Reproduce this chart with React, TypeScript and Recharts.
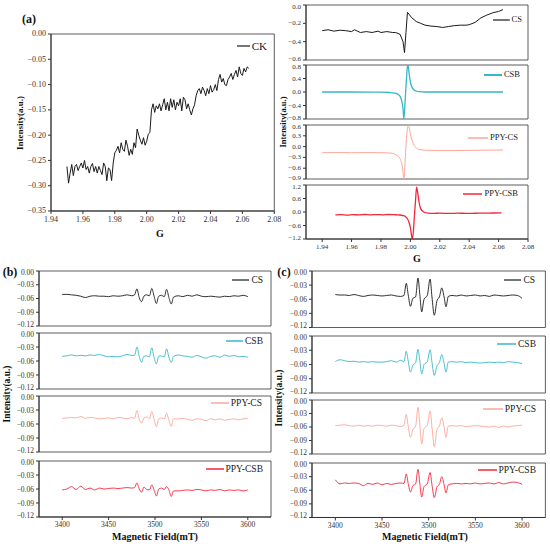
import { LineChart, Line, XAxis, YAxis, ReferenceArea } from 'recharts';

// ---- (a) g-factor spectra ----
const ckG = [
  1.950, 1.951, 1.952, 1.953, 1.954, 1.955, 1.956, 1.957, 1.958, 1.959,
  1.960, 1.961, 1.962, 1.963, 1.964, 1.965, 1.966, 1.967, 1.968, 1.969,
  1.970, 1.971, 1.972, 1.973, 1.974, 1.975, 1.976, 1.977, 1.978, 1.979,
  1.980, 1.981, 1.982, 1.983, 1.984, 1.985, 1.986, 1.987, 1.988, 1.989,
  1.990, 1.991, 1.992, 1.993, 1.994, 1.995, 1.996, 1.997, 1.998, 1.999,
  2.000, 2.001, 2.002, 2.003, 2.004, 2.005, 2.006, 2.007, 2.008, 2.009,
  2.010, 2.011, 2.012, 2.013, 2.014, 2.015, 2.016, 2.017, 2.018, 2.019,
  2.020, 2.021, 2.022, 2.023, 2.024, 2.025, 2.026, 2.027, 2.028, 2.029,
  2.030, 2.031, 2.032, 2.033, 2.034, 2.035, 2.036, 2.037, 2.038, 2.039,
  2.040, 2.041, 2.042, 2.043, 2.044, 2.045, 2.046, 2.047, 2.048, 2.049,
  2.050, 2.051, 2.052, 2.053, 2.054, 2.055, 2.056, 2.057, 2.058, 2.059,
  2.060, 2.061, 2.062, 2.063, 2.064];
const ckI = [
  -0.262, -0.295, -0.275, -0.258, -0.280, -0.262, -0.258, -0.270, -0.262, -0.255,
  -0.265, -0.250, -0.268, -0.262, -0.275, -0.262, -0.256, -0.272, -0.262, -0.275,
  -0.262, -0.270, -0.278, -0.255, -0.262, -0.290, -0.265, -0.268, -0.290, -0.255,
  -0.235, -0.230, -0.222, -0.235, -0.215, -0.228, -0.232, -0.210, -0.222, -0.240,
  -0.228, -0.238, -0.215, -0.225, -0.188, -0.200, -0.210, -0.218, -0.205, -0.220,
  -0.212, -0.198, -0.195, -0.150, -0.138, -0.155, -0.142, -0.148, -0.138, -0.152,
  -0.140, -0.128, -0.150, -0.135, -0.152, -0.128, -0.145, -0.130, -0.150, -0.135,
  -0.142, -0.128, -0.152, -0.125, -0.130, -0.148, -0.138, -0.150, -0.160, -0.148,
  -0.140, -0.122, -0.112, -0.108, -0.118, -0.105, -0.112, -0.122, -0.108, -0.118,
  -0.102, -0.115, -0.110, -0.100, -0.112, -0.090, -0.080, -0.095, -0.088, -0.100,
  -0.102, -0.090, -0.085, -0.078, -0.090, -0.080, -0.072, -0.085, -0.065, -0.078,
  -0.082, -0.068, -0.075, -0.065, -0.068];

const csG = [1.940, 1.944, 1.948, 1.952, 1.956, 1.960, 1.962, 1.966, 1.970, 1.974, 1.978, 1.980, 1.984, 1.988, 1.990, 1.993, 1.995, 1.996, 1.997, 1.998, 1.999, 2.001, 2.004, 2.007, 2.010, 2.014, 2.018, 2.022, 2.026, 2.030, 2.034, 2.038, 2.040, 2.044, 2.048, 2.052, 2.056, 2.060, 2.063];
const csI = [-0.28, -0.27, -0.285, -0.275, -0.28, -0.29, -0.27, -0.30, -0.29, -0.30, -0.285, -0.30, -0.29, -0.30, -0.30, -0.32, -0.40, -0.52, -0.30, -0.08, -0.10, -0.14, -0.18, -0.20, -0.22, -0.23, -0.235, -0.245, -0.235, -0.225, -0.22, -0.22, -0.215, -0.19, -0.14, -0.11, -0.085, -0.07, -0.05];

const csbG = [1.940, 1.960, 1.980, 1.986, 1.990, 1.992, 1.993, 1.994, 1.995, 1.9955, 1.996, 1.9965, 1.997, 1.9975, 1.998, 1.9985, 1.999, 2.000, 2.001, 2.002, 2.004, 2.006, 2.010, 2.020, 2.040, 2.063];
const csbI = [0, 0, -0.005, -0.015, -0.04, -0.08, -0.13, -0.25, -0.5, -0.8, -0.6, -0.2, 0.15, 0.5, 0.75, 0.8, 0.6, 0.3, 0.15, 0.08, 0.03, 0.01, 0, 0, 0, 0];

const ppycsG = [1.940, 1.950, 1.960, 1.970, 1.980, 1.985, 1.988, 1.990, 1.992, 1.993, 1.994, 1.995, 1.9955, 1.996, 1.9965, 1.997, 1.9975, 1.998, 1.9985, 1.999, 2.000, 2.001, 2.002, 2.004, 2.006, 2.010, 2.020, 2.030, 2.040, 2.050, 2.063];
const ppycsI = [-0.17, -0.165, -0.17, -0.165, -0.17, -0.175, -0.19, -0.22, -0.28, -0.34, -0.45, -0.7, -0.9, -0.75, -0.35, 0.0, 0.3, 0.5, 0.6, 0.55, 0.35, 0.2, 0.08, -0.04, -0.08, -0.1, -0.11, -0.11, -0.105, -0.1, -0.095];

const ppycsbG = [1.949, 1.953, 1.957, 1.961, 1.965, 1.969, 1.973, 1.977, 1.981, 1.985, 1.989, 1.992, 1.995, 1.997, 1.998, 1.999, 2.000, 2.0007, 2.0013, 2.002, 2.0027, 2.0035, 2.0042, 2.005, 2.006, 2.007, 2.009, 2.012, 2.016, 2.020, 2.026, 2.032, 2.038, 2.044, 2.050, 2.056, 2.062];
const ppycsbI = [-0.13, -0.12, -0.135, -0.12, -0.125, -0.11, -0.125, -0.115, -0.125, -0.11, -0.12, -0.13, -0.16, -0.22, -0.3, -0.45, -0.7, -1.0, -1.2, -0.9, -0.2, 0.5, 1.1, 0.85, 0.4, 0.15, 0.0, -0.05, -0.06, -0.05, -0.065, -0.05, -0.06, -0.055, -0.05, -0.045, -0.04];

// ---- (b) magnetic field spectra ----
const bField = [3400, 3405, 3410, 3415, 3420, 3425, 3430, 3435, 3440, 3445, 3450, 3455, 3460, 3465, 3470, 3475, 3478, 3480.5, 3483, 3485.5, 3488, 3491, 3494, 3496.5, 3499, 3501.5, 3504, 3507, 3510, 3512.5, 3515, 3517.5, 3520, 3525, 3530, 3535, 3540, 3545, 3550, 3555, 3560, 3565, 3570, 3575, 3580, 3585, 3590, 3595, 3600];
const bCS = [-0.051, -0.051, -0.052, -0.053, -0.055, -0.058, -0.055, -0.054, -0.055, -0.055, -0.056, -0.054, -0.055, -0.054, -0.052, -0.054,
  -0.052, -0.039, -0.058, -0.067, -0.055, -0.052, -0.054, -0.038, -0.055, -0.071, -0.055, -0.053, -0.056, -0.040, -0.058, -0.072, -0.057,
  -0.054, -0.056, -0.053, -0.055, -0.052, -0.055, -0.056, -0.055, -0.056, -0.057, -0.055, -0.056, -0.054, -0.055, -0.053, -0.056];
const bCSB = [-0.050, -0.049, -0.047, -0.049, -0.048, -0.049, -0.047, -0.048, -0.046, -0.049, -0.051, -0.050, -0.051, -0.049, -0.046, -0.048,
  -0.048, -0.030, -0.050, -0.063, -0.050, -0.049, -0.051, -0.032, -0.052, -0.066, -0.050, -0.049, -0.051, -0.034, -0.052, -0.063, -0.050,
  -0.047, -0.049, -0.050, -0.052, -0.048, -0.051, -0.054, -0.050, -0.049, -0.052, -0.047, -0.050, -0.048, -0.051, -0.050, -0.052];
const bPPYCS = [-0.048, -0.047, -0.046, -0.047, -0.044, -0.048, -0.046, -0.047, -0.049, -0.048, -0.047, -0.049, -0.046, -0.047, -0.049, -0.046,
  -0.048, -0.031, -0.050, -0.058, -0.047, -0.045, -0.049, -0.033, -0.050, -0.066, -0.049, -0.047, -0.049, -0.037, -0.052, -0.065, -0.049,
  -0.049, -0.048, -0.050, -0.052, -0.049, -0.050, -0.053, -0.049, -0.051, -0.049, -0.052, -0.050, -0.049, -0.051, -0.049, -0.048];
const bPPYCSB = [-0.062, -0.060, -0.055, -0.061, -0.054, -0.061, -0.058, -0.062, -0.058, -0.060, -0.059, -0.058, -0.059, -0.058, -0.057, -0.058,
  -0.057, -0.047, -0.060, -0.067, -0.056, -0.061, -0.062, -0.051, -0.062, -0.075, -0.060, -0.058, -0.061, -0.055, -0.062, -0.076, -0.064,
  -0.064, -0.063, -0.062, -0.063, -0.061, -0.062, -0.064, -0.062, -0.063, -0.061, -0.064, -0.062, -0.063, -0.062, -0.064, -0.062];

// ---- (c) magnetic field spectra ----
const cField = [3400, 3405, 3410, 3415, 3420, 3425, 3430, 3435, 3440, 3445, 3450, 3455, 3460, 3465, 3470, 3473.5, 3476, 3478, 3480.5, 3483, 3486, 3488.5, 3490.5, 3492.5, 3495, 3498.5, 3501.5, 3503.5, 3506, 3509, 3511.5, 3514, 3516.5, 3518.5, 3521, 3525, 3530, 3535, 3540, 3545, 3550, 3555, 3560, 3565, 3570, 3575, 3580, 3585, 3590, 3595, 3600];
const cCS = [-0.050, -0.051, -0.051, -0.052, -0.050, -0.052, -0.054, -0.052, -0.051, -0.052, -0.053, -0.052, -0.051, -0.053, -0.054,
  -0.052, -0.026, -0.050, -0.075, -0.058, -0.055, -0.015, -0.050, -0.087, -0.060, -0.052, -0.017, -0.055, -0.094, -0.062, -0.055, -0.036, -0.055, -0.076, -0.054,
  -0.052, -0.053, -0.051, -0.053, -0.052, -0.051, -0.053, -0.052, -0.054, -0.051, -0.052, -0.053, -0.052, -0.051, -0.052, -0.058];
const cCSB = [-0.054, -0.050, -0.052, -0.054, -0.053, -0.055, -0.054, -0.055, -0.054, -0.055, -0.055, -0.054, -0.052, -0.055, -0.051,
  -0.054, -0.032, -0.052, -0.076, -0.062, -0.056, -0.028, -0.052, -0.080, -0.060, -0.054, -0.029, -0.055, -0.083, -0.062, -0.056, -0.039, -0.058, -0.076, -0.055,
  -0.054, -0.055, -0.054, -0.056, -0.055, -0.056, -0.057, -0.056, -0.055, -0.056, -0.055, -0.056, -0.054, -0.055, -0.056, -0.058];
const cPPYCS = [-0.057, -0.056, -0.055, -0.057, -0.058, -0.056, -0.058, -0.057, -0.058, -0.056, -0.057, -0.058, -0.056, -0.057, -0.059,
  -0.056, -0.032, -0.058, -0.083, -0.066, -0.058, -0.016, -0.055, -0.098, -0.063, -0.056, -0.024, -0.060, -0.104, -0.064, -0.058, -0.040, -0.060, -0.083, -0.058,
  -0.057, -0.058, -0.057, -0.059, -0.058, -0.057, -0.058, -0.059, -0.060, -0.058, -0.061, -0.058, -0.060, -0.058, -0.057, -0.056];
const cPPYCSB = [-0.037, -0.046, -0.044, -0.045, -0.044, -0.045, -0.050, -0.045, -0.047, -0.044, -0.048, -0.045, -0.047, -0.045, -0.044,
  -0.045, -0.024, -0.045, -0.064, -0.050, -0.046, -0.014, -0.045, -0.075, -0.052, -0.046, -0.021, -0.048, -0.076, -0.052, -0.047, -0.030, -0.048, -0.066, -0.048,
  -0.046, -0.045, -0.046, -0.045, -0.046, -0.044, -0.046, -0.045, -0.044, -0.046, -0.043, -0.046, -0.044, -0.042, -0.043, -0.047];

// ticks
const gTicks = [1.94, 1.96, 1.98, 2.00, 2.02, 2.04, 2.06, 2.08];
const ckTicks = [0, -0.05, -0.10, -0.15, -0.20, -0.25, -0.30, -0.35];
const csTicks = [0, -0.2, -0.4, -0.6];
const csbTicks = [0.8, 0.4, 0, -0.4, -0.8];
const ppycsTicks = [0.6, 0.3, 0, -0.3, -0.6, -0.9];
const ppycsbTicks = [1.2, 0.6, 0, -0.6, -1.2];
const fieldTicks = [3400, 3450, 3500, 3550, 3600];
const hfTicks = [0, -0.03, -0.06, -0.09, -0.12];

const BLACK = '#1a1a1a';
const TEAL = '#35b8c8';
const SALMON = '#fba79b';
const RED = '#f5263c';
const SERIF = '"Liberation Serif", "DejaVu Serif", serif';
const AXIS = '#333';

const fmt = (v: number, d: number) => v.toFixed(d).replace('-', '\u2212');

const YW = 34;
const MT = 6;
const MB = 6;
const MR = 14;
const XH = 18;

interface PanelProps {
  box: [number, number, number, number];
  xs: number[];
  ys: number[];
  xDomain: [number, number];
  yDomain: [number, number];
  yTicks: number[];
  yDec: number;
  xTicks?: number[];
  xDec?: number;
  color: string;
  lineWidth?: number;
  curve?: 'linear' | 'monotone';
  fontSize?: number;
  stacked?: boolean;
}

const Panel = ({ box, xs, ys, xDomain, yDomain, yTicks, yDec, xTicks, xDec = 0, color, lineWidth = 1, curve = 'monotone', fontSize = 7.5, stacked = true }: PanelProps) => {
  const [l, t, r, b] = box;
  const n = Math.min(xs.length, ys.length);
  const data = xs.slice(0, n).map((x, i) => ({ x, y: ys[i] }));
  const w = r - l + YW + MR;
  const h = b - t + MT + (xTicks ? XH : 0) + MB;
  const tickStyle = { fontSize, fill: AXIS, fontFamily: SERIF };
  // in stacked panels the edge labels of neighbours sit close together: pull them inwards a little
  const yTick = (p: any) => {
    const v = p.payload.value as number;
    let dy = 0;
    if (stacked && v === yDomain[1]) dy = 1.5;
    if (stacked && v === yDomain[0]) dy = -1.5;
    return (
      <text x={p.x} y={p.y + dy} textAnchor="end" dominantBaseline="central" {...tickStyle}>
        {fmt(v, yDec)}
      </text>
    );
  };
  return (
    <div style={{ position: 'absolute', left: l - YW, top: t - MT }}>
      <LineChart width={w} height={h} data={data} margin={{ top: MT, right: MR, bottom: MB, left: 0 }}>
        <XAxis
          type="number"
          dataKey="x"
          domain={xDomain}
          allowDataOverflow
          ticks={xTicks}
          interval={0}
          hide={!xTicks}
          height={XH}
          tickSize={3}
          tickMargin={2}
          axisLine={{ stroke: AXIS }}
          tickLine={{ stroke: AXIS }}
          tick={tickStyle}
          tickFormatter={(v: number) => fmt(v, xDec)}
        />
        <YAxis
          type="number"
          domain={yDomain}
          allowDataOverflow
          ticks={yTicks}
          interval={0}
          width={YW}
          tickSize={3}
          tickMargin={2}
          axisLine={{ stroke: AXIS }}
          tickLine={{ stroke: AXIS }}
          tick={yTick}
        />
        <ReferenceArea x1={xDomain[0]} x2={xDomain[1]} y1={yDomain[0]} y2={yDomain[1]} fill="none" stroke={AXIS} strokeWidth={0.8} ifOverflow="visible" />
        <Line type={curve} dataKey="y" stroke={color} strokeWidth={lineWidth} dot={false} isAnimationActive={false} />
      </LineChart>
    </div>
  );
};

// legend entry: short coloured line + label, right-aligned at `right`
const Key = ({ label, color, right, y, lineW, size = 9, thick = 1.5 }: { label: string; color: string; right: number; y: number; lineW: number; size?: number; thick?: number }) => (
  <div style={{ position: 'absolute', right: Math.round(550 - right), top: Math.round(y - size * 0.55), display: 'flex', alignItems: 'center', fontSize: size, lineHeight: 1.1, whiteSpace: 'nowrap', color: BLACK }}>
    <svg width={lineW} height={4} style={{ marginRight: 2 }}>
      <line x1={0} y1={2} x2={lineW} y2={2} stroke={color} strokeWidth={thick} />
    </svg>
    <span>{label}</span>
  </div>
);

const Text = ({ x, y, size, rotate = false, children }: { x: number; y: number; size: number; rotate?: boolean; children: string }) => (
  <div style={{ position: 'absolute', left: x, top: y, transform: `translate(-50%, -50%)${rotate ? ' rotate(-90deg)' : ''}`, fontSize: size, fontWeight: 'bold', whiteSpace: 'nowrap', color: '#111', lineHeight: 1 }}>
    {children}
  </div>
);

const gRight: [number, number] = [1.929, 2.08];
const fieldDom: [number, number] = [3375, 3625];
const hfDom: [number, number] = [-0.12, 0];

export default function App() {
  return (
    <div style={{ position: 'absolute', left: 0, top: 0, width: 550, height: 546, background: '#fff', fontFamily: SERIF, overflow: 'hidden' }}>
      {/* (a) left */}
      <Panel box={[50.7, 34, 274, 211]} xs={ckG} ys={ckI} xDomain={[1.94, 2.08]} yDomain={[-0.35, 0]} yTicks={ckTicks} yDec={2} xTicks={gTicks} xDec={2} color={BLACK} curve="linear" fontSize={8} stacked={false} />
      <Key label="CK" color={BLACK} right={267} y={45.7} lineW={13} size={11} thick={1.2} />
      <Text x={29} y={19} size={12}>(a)</Text>
      <Text x={20} y={123} size={9} rotate>Intensity(a.u.)</Text>
      <Text x={160} y={234} size={10}>G</Text>

      {/* (a) right */}
      <Panel box={[306, 5, 528, 60]} xs={csG} ys={csI} xDomain={gRight} yDomain={[-0.6, 0]} yTicks={csTicks} yDec={1} color={BLACK} curve="linear" fontSize={7} />
      <Panel box={[306, 65, 528, 119]} xs={csbG} ys={csbI} xDomain={gRight} yDomain={[-0.8, 0.8]} yTicks={csbTicks} yDec={1} color={TEAL} lineWidth={1.3} fontSize={7} />
      <Panel box={[306, 125, 528, 179]} xs={ppycsG} ys={ppycsI} xDomain={gRight} yDomain={[-0.9, 0.6]} yTicks={ppycsTicks} yDec={1} color={SALMON} fontSize={7} />
      <Panel box={[306, 185, 528, 239]} xs={ppycsbG} ys={ppycsbI} xDomain={gRight} yDomain={[-1.2, 1.2]} yTicks={ppycsbTicks} yDec={1} xTicks={gTicks} xDec={2} color={RED} lineWidth={1.3} fontSize={7} />
      <Key label="CS" color={BLACK} right={521.7} y={19.7} lineW={17} size={8.5} thick={1.2} />
      <Key label="CSB" color={TEAL} right={520} y={74.7} lineW={18} size={8.5} thick={2} />
      <Key label="PPY-CS" color={SALMON} right={518.3} y={137.3} lineW={20} size={8.5} />
      <Key label="PPY-CSB" color={RED} right={518.3} y={194} lineW={19} size={8.5} />
      <Text x={283} y={122} size={8.5} rotate>Intensity(a.u.)</Text>
      <Text x={417} y={259} size={10}>G</Text>

      {/* (b) */}
      <Panel box={[38.5, 271, 270.5, 326]} xs={bField} ys={bCS} xDomain={fieldDom} yDomain={hfDom} yTicks={hfTicks} yDec={2} color={BLACK} lineWidth={0.9} />
      <Panel box={[38.5, 333, 270.5, 389]} xs={bField} ys={bCSB} xDomain={fieldDom} yDomain={hfDom} yTicks={hfTicks} yDec={2} color={TEAL} lineWidth={0.9} />
      <Panel box={[38.5, 396, 270.5, 452]} xs={bField} ys={bPPYCS} xDomain={fieldDom} yDomain={hfDom} yTicks={hfTicks} yDec={2} color={SALMON} lineWidth={0.9} />
      <Panel box={[38.5, 461, 270.5, 517]} xs={bField} ys={bPPYCSB} xDomain={fieldDom} yDomain={hfDom} yTicks={hfTicks} yDec={2} xTicks={fieldTicks} color={RED} lineWidth={0.9} />
      <Key label="CS" color={BLACK} right={263} y={280.3} lineW={17} size={9.5} thick={1.2} />
      <Key label="CSB" color={TEAL} right={263} y={341} lineW={17} size={9.5} />
      <Key label="PPY-CS" color={SALMON} right={262} y={403.3} lineW={18} size={9.5} />
      <Key label="PPY-CSB" color={RED} right={263} y={469} lineW={18} size={9.5} />
      <Text x={10} y={272} size={12}>(b)</Text>
      <Text x={8} y={394} size={9.5} rotate>Intensity(a.u.)</Text>
      <Text x={155} y={537} size={10}>Magnetic Field(mT)</Text>

      {/* (c) */}
      <Panel box={[312.3, 271, 545.7, 327.5]} xs={cField} ys={cCS} xDomain={fieldDom} yDomain={hfDom} yTicks={hfTicks} yDec={2} color={BLACK} lineWidth={0.9} />
      <Panel box={[312.3, 336, 545.7, 393]} xs={cField} ys={cCSB} xDomain={fieldDom} yDomain={hfDom} yTicks={hfTicks} yDec={2} color={TEAL} lineWidth={0.9} />
      <Panel box={[312.3, 400, 545.7, 454]} xs={cField} ys={cPPYCS} xDomain={fieldDom} yDomain={hfDom} yTicks={hfTicks} yDec={2} color={SALMON} lineWidth={0.9} />
      <Panel box={[312.3, 463, 545.7, 517.5]} xs={cField} ys={cPPYCSB} xDomain={fieldDom} yDomain={hfDom} yTicks={hfTicks} yDec={2} xTicks={fieldTicks} color={RED} lineWidth={0.9} />
      <Key label="CS" color={BLACK} right={535} y={280.7} lineW={17} size={9.5} thick={1.2} />
      <Key label="CSB" color={TEAL} right={535.7} y={344} lineW={19} size={9.5} />
      <Key label="PPY-CS" color={SALMON} right={535.7} y={409} lineW={20} size={9.5} />
      <Key label="PPY-CSB" color={RED} right={535.7} y={470.7} lineW={19} size={9.5} />
      <Text x={284} y={272} size={12}>(c)</Text>
      <Text x={280} y={398} size={9.5} rotate>Intensity(a.u.)</Text>
      <Text x={425} y={537} size={10}>Magnetic Field(mT)</Text>
    </div>
  );
}
